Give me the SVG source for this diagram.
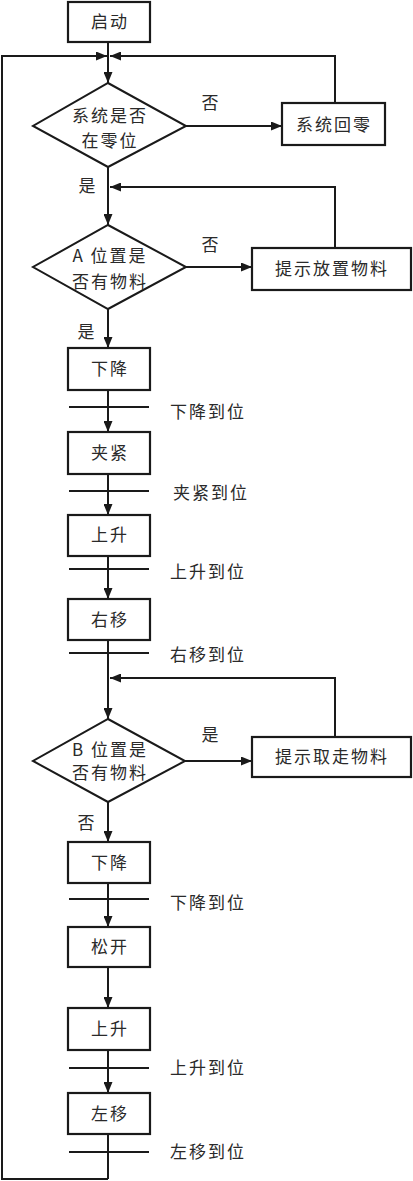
<svg xmlns="http://www.w3.org/2000/svg" width="413" height="1181" viewBox="0 0 413 1181">
<style>
.box{fill:#fff;stroke:#1a1a1a;stroke-width:2.2}
.dia{fill:#fff;stroke:#1a1a1a;stroke-width:2}
.ln{fill:none;stroke:#1a1a1a;stroke-width:2}
.tr{stroke:#1a1a1a;stroke-width:2}
text{font-family:"Noto Sans CJK SC","Liberation Serif",serif;font-size:17px;fill:#2a2a2a;letter-spacing:2px}
.m{text-anchor:middle}
</style>
<defs>
<marker id="ar" markerUnits="userSpaceOnUse" markerWidth="11" markerHeight="9" refX="11" refY="4.5" orient="auto">
<path d="M0,0 L11,4.5 L0,9 z" fill="#1a1a1a"/>
</marker>
</defs>
<g id="connectors">
<line class="ln" x1="108" y1="42" x2="108" y2="83" marker-end="url(#ar)"/>
<path class="ln" d="M108,1179 H2 V56 H107" marker-end="url(#ar)"/>
<path class="ln" d="M335,103 V56 H110" marker-end="url(#ar)"/>
<line class="ln" x1="186" y1="126" x2="282" y2="126" marker-end="url(#ar)"/>
<line class="ln" x1="108" y1="167" x2="108" y2="225" marker-end="url(#ar)"/>
<path class="ln" d="M335,248 V187 H110" marker-end="url(#ar)"/>
<line class="ln" x1="186" y1="267" x2="252" y2="267" marker-end="url(#ar)"/>
<line class="ln" x1="108" y1="309" x2="108" y2="348" marker-end="url(#ar)"/>
<line class="ln" x1="108" y1="390" x2="108" y2="432" marker-end="url(#ar)"/>
<line class="ln" x1="108" y1="474" x2="108" y2="515" marker-end="url(#ar)"/>
<line class="ln" x1="108" y1="556" x2="108" y2="599" marker-end="url(#ar)"/>
<line class="ln" x1="108" y1="640" x2="108" y2="719" marker-end="url(#ar)"/>
<path class="ln" d="M335,737 V678 H110" marker-end="url(#ar)"/>
<line class="ln" x1="185" y1="761" x2="252" y2="761" marker-end="url(#ar)"/>
<line class="ln" x1="108" y1="802" x2="108" y2="842" marker-end="url(#ar)"/>
<line class="ln" x1="108" y1="883" x2="108" y2="927" marker-end="url(#ar)"/>
<line class="ln" x1="108" y1="967" x2="108" y2="1008" marker-end="url(#ar)"/>
<line class="ln" x1="108" y1="1050" x2="108" y2="1093" marker-end="url(#ar)"/>
<line class="ln" x1="108" y1="1134" x2="108" y2="1179"/>
<line class="tr" x1="69" y1="407" x2="149" y2="407"/>
<line class="tr" x1="69" y1="491" x2="149" y2="491"/>
<line class="tr" x1="69" y1="569" x2="149" y2="569"/>
<line class="tr" x1="69" y1="653" x2="149" y2="653"/>
<line class="tr" x1="69" y1="899" x2="149" y2="899"/>
<line class="tr" x1="69" y1="1068" x2="149" y2="1068"/>
<line class="tr" x1="69" y1="1152" x2="149" y2="1152"/>
<text x="211" y="109" class="m">否</text>
<text x="88" y="192" class="m">是</text>
<text x="211" y="251" class="m">否</text>
<text x="87" y="338" class="m">是</text>
<text x="211" y="741" class="m">是</text>
<text x="87" y="829" class="m">否</text>
<text x="170" y="418">下降到位</text>
<text x="173" y="499">夹紧到位</text>
<text x="170" y="578">上升到位</text>
<text x="170" y="661">右移到位</text>
<text x="170" y="909">下降到位</text>
<text x="170" y="1074">上升到位</text>
<text x="170" y="1158">左移到位</text>
</g>
<g id="start"><rect class="box" x="68" y="2" width="82" height="40"/><text x="110" y="28" class="m">启动</text></g>
<g id="d1"><polygon class="dia" points="108,83 186,126 108,167 33,126"/><text x="110" y="122" class="m">系统是否</text><text x="110" y="147" class="m">在零位</text></g>
<g id="reset"><rect class="box" x="282" y="103" width="103" height="42"/><text x="334" y="131" class="m">系统回零</text></g>
<g id="d2"><polygon class="dia" points="108,225 186,267 108,309 33,267"/><text x="110" y="262" class="m">A 位置是</text><text x="110" y="288" class="m">否有物料</text></g>
<g id="place"><rect class="box" x="252" y="248" width="159" height="42"/><text x="332" y="275" class="m">提示放置物料</text></g>
<g id="down1"><rect class="box" x="68" y="348" width="82" height="42"/><text x="110" y="375" class="m">下降</text></g>
<g id="clamp"><rect class="box" x="68" y="432" width="82" height="42"/><text x="110" y="459" class="m">夹紧</text></g>
<g id="up1"><rect class="box" x="68" y="515" width="82" height="41"/><text x="110" y="541" class="m">上升</text></g>
<g id="right"><rect class="box" x="68" y="599" width="82" height="41"/><text x="110" y="626" class="m">右移</text></g>
<g id="d3"><polygon class="dia" points="108,719 185,761 108,802 33,761"/><text x="110" y="756" class="m">B 位置是</text><text x="110" y="779" class="m">否有物料</text></g>
<g id="take"><rect class="box" x="252" y="737" width="159" height="40"/><text x="332" y="763" class="m">提示取走物料</text></g>
<g id="down2"><rect class="box" x="68" y="842" width="82" height="41"/><text x="110" y="869" class="m">下降</text></g>
<g id="release"><rect class="box" x="68" y="927" width="82" height="40"/><text x="110" y="953" class="m">松开</text></g>
<g id="up2"><rect class="box" x="68" y="1008" width="82" height="42"/><text x="110" y="1035" class="m">上升</text></g>
<g id="left"><rect class="box" x="68" y="1093" width="82" height="41"/><text x="110" y="1120" class="m">左移</text></g>
</svg>
